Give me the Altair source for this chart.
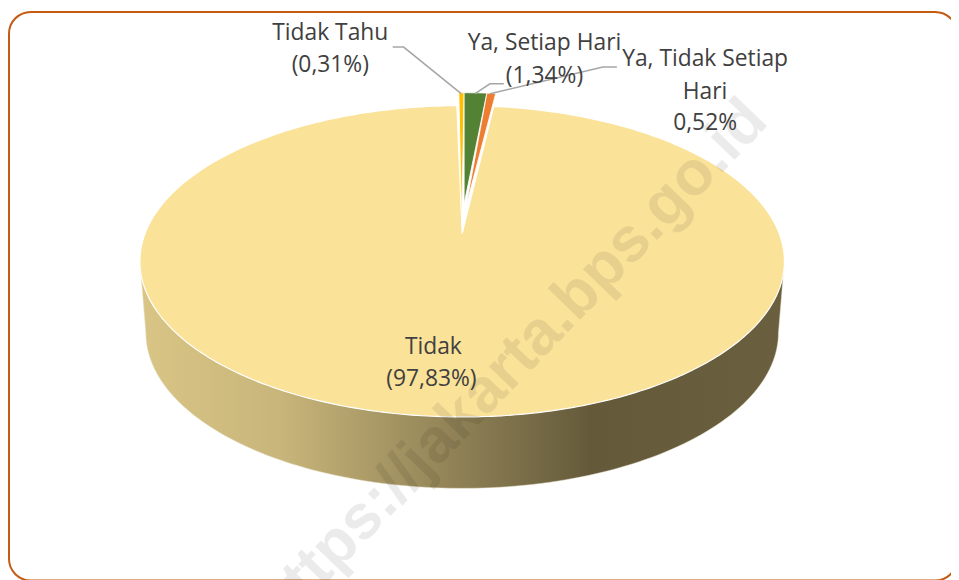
import altair as alt
import numpy as np
import pandas as pd

# data
categories = ["Tidak Tahu", "Ya, Setiap Hari", "Ya, Tidak Setiap Hari", "Tidak"]
values = [0.31, 1.34, 0.52, 97.83]
colors = ["#FFC000", "#548235", "#ED7D31", "#FBE299"]

label_lines = ["Tidak Tahu", "(0,31%)", "Ya, Setiap Hari", "(1,34%)", "Ya, Tidak Setiap", "Hari", "0,52%", "Tidak", "(97,83%)"]
label_x = [333, 333, 549, 549, 711, 711, 711, 437, 435]
label_y = [31, 63, 41, 74, 57, 90, 122, 348, 380]

leader_a_x = [396, 407, 465]
leader_a_y = [45, 45, 92]
leader_b_x = [508, 494, 479]
leader_b_y = [82, 82, 92]
leader_c_x = [622, 608, 494]
leader_c_y = [65, 65, 92]

# pie geometry (image pixels)
CX, CY, RX, RY = 466.0, 261.0, 325.0, 157.0
BX, BY, BRX, BRY = 466.0, 333.0, 319.0, 157.0
APEX = (466.0, 233.0)
FAR = 0.84  # perspective compression of the far rim
LIFT = 13.0
SHIFT = 2.0
TIPS = [(465.5, 222.0), (468.0, 203.0), (470.0, 205.0)]

X = alt.X("x:Q", scale=alt.Scale(domain=[8, 959], range=[0, 951]), axis=None)
Y = alt.Y("y:Q", scale=alt.Scale(domain=[8, 580], range=[0, 572]), axis=None)


def rim(theta_deg, lift=0.0, shift=0.0):
    t = np.radians(theta_deg)
    return CX + shift + RX * np.sin(t), CY - lift - RY * np.cos(t)


def poly(xs, ys):
    return pd.DataFrame({"x": xs, "y": ys, "i": np.arange(len(xs))})


def shape(df, **kw):
    return alt.Chart(df).mark_line(**kw).encode(x=X, y=Y, order="i:Q")


deg = [v * 3.6 * FAR for v in values[:3]]
start = -deg[0]
bounds = [start, start + deg[0], start + deg[0] + deg[1], start + deg[0] + deg[1] + deg[2]]

# side wall
t = np.radians(np.linspace(90, 270, 120))
sx = np.concatenate([[CX + RX], BX + BRX * np.sin(t), [CX - RX]])
sy = np.concatenate([[CY], BY - BRY * np.cos(t), [CY]])
side = shape(
    poly(sx, sy),
    fill=alt.Gradient(
        gradient="linear", x1=0, y1=0, x2=1, y2=0,
        stops=[
            alt.GradientStop(offset=0, color="#D9C585"),
            alt.GradientStop(offset=0.22, color="#C8B57A"),
            alt.GradientStop(offset=0.70, color="#645A3A"),
            alt.GradientStop(offset=1, color="#6A5F3E"),
        ],
    ),
    stroke="#E9E2CC", strokeWidth=0.5,
)

# big slice
th = np.linspace(bounds[3], bounds[0] + 360, 400)
bx, by = rim(th)
big = shape(
    poly(np.concatenate([[APEX[0]], bx, [APEX[0]]]), np.concatenate([[APEX[1]], by, [APEX[1]]])),
    fill=colors[3], stroke="white", strokeWidth=1.2,
)

# small exploded slices
wedges = []
for i in range(3):
    th = np.linspace(bounds[i], bounds[i + 1], 12)
    wx, wy = rim(th, LIFT, SHIFT)
    tip = TIPS[i]
    wedges.append(
        shape(
            poly(np.concatenate([[tip[0]], wx, [tip[0]]]), np.concatenate([[tip[1]], wy, [tip[1]]])),
            fill=colors[i], stroke="white", strokeWidth=0.8,
        )
    )

# leader lines
leaders = [
    shape(poly(a, b), color="#A6A6A6", strokeWidth=1.5)
    for a, b in [(leader_a_x, leader_a_y), (leader_b_x, leader_b_y), (leader_c_x, leader_c_y)]
]

labels = alt.Chart(pd.DataFrame({"x": label_x, "y": label_y, "t": label_lines})).mark_text(
    font="Open Sans", fontSize=23, color="#404040", align="center", baseline="middle"
).encode(x=X, y=Y, text="t:N")

watermark = alt.Chart(pd.DataFrame({"x": [516], "y": [364], "t": ["https://jakarta.bps.go.id"]})).mark_text(
    font="Liberation Sans", fontWeight="bold", fontSize=63, color="#000000", opacity=0.075,
    angle=314, align="center", baseline="middle"
).encode(x=X, y=Y, text="t:N")

frame = alt.Chart(pd.DataFrame({"x": [9], "x2": [965], "y": [9.5], "y2": [583]})).mark_rect(
    fill="transparent", stroke="#C55A11", strokeWidth=2, cornerRadius=22
).encode(x=X, x2="x2:Q", y=Y, y2="y2:Q")

chart = alt.layer(frame, side, big, *wedges, *leaders, watermark, labels).properties(
    width=951, height=572, padding=0,
    autosize=alt.AutoSizeParams(type="none", contains="content"),
    background="white",
).configure_view(stroke=None)

chart.save("out.html", embed_options={"renderer": "svg", "actions": False})
